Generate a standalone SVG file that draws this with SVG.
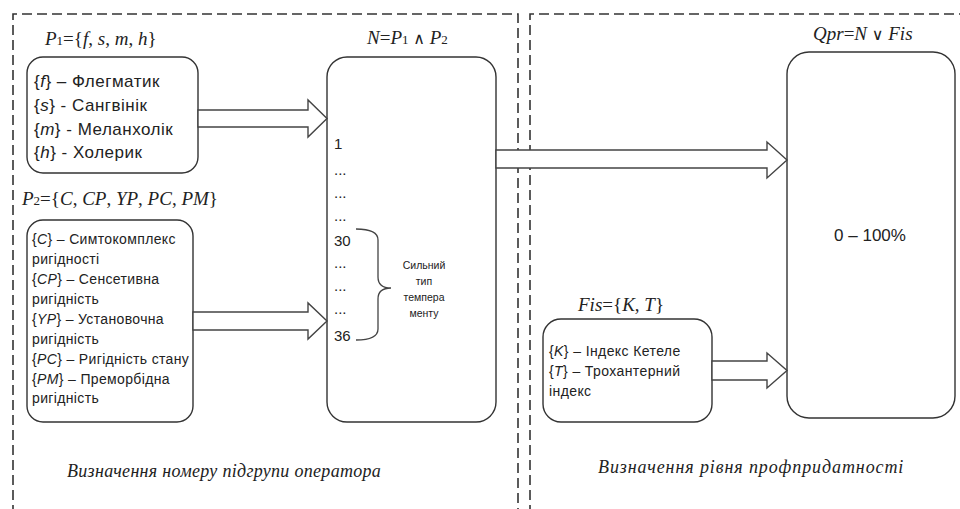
<svg xmlns="http://www.w3.org/2000/svg" width="960" height="509" viewBox="0 0 960 509">
<defs>
<style>
.frame{fill:none;stroke:#333;stroke-width:1.6;stroke-dasharray:10,5}
.box{fill:#fff;stroke:#333;stroke-width:1.4}
.arr{fill:#fff;stroke:#444;stroke-width:1.4}
.t{font-family:"Liberation Sans",Arial,sans-serif;fill:#222}
.m{font-family:"Liberation Serif","Times New Roman",serif;fill:#222;font-size:19px}
.op{font-family:"DejaVu Sans",sans-serif;font-size:16px;font-weight:normal}
.i{font-style:italic}
.cap{font-family:"Liberation Serif","Times New Roman",serif;font-style:italic;fill:#222;font-size:18px}
</style>
</defs>
<rect width="960" height="509" fill="#fff"/>
<g id="frames">
<path class="frame" d="M13,515 V14 H518 V515"/>
<path class="frame" d="M530,515 V14 H965"/>
</g>
<g id="p1">
<text class="m" x="45" y="45"><tspan class="i">P</tspan><tspan font-size="13">1</tspan>={<tspan class="i">f</tspan>, <tspan class="i">s</tspan>, <tspan class="i">m</tspan>, <tspan class="i">h</tspan>}</text>
<rect class="box" x="27" y="57" width="171" height="116" rx="16"/>
<text class="t" font-size="17" letter-spacing="0.5"><tspan x="34" y="87">{<tspan class="i">f</tspan>} – Флегматик</tspan><tspan x="34" y="111">{<tspan class="i">s</tspan>} - Сангвінік</tspan><tspan x="34" y="135">{<tspan class="i">m</tspan>} - Меланхолік</tspan><tspan x="34" y="158">{<tspan class="i">h</tspan>} - Холерик</tspan></text>
</g>
<g id="p2">
<text class="m" x="22" y="205"><tspan class="i">P</tspan><tspan font-size="13">2</tspan>={<tspan class="i">C</tspan>, <tspan class="i">CP</tspan>, <tspan class="i">YP</tspan>, <tspan class="i">PC</tspan>, <tspan class="i">PM</tspan>}</text>
<rect class="box" x="27" y="220" width="166" height="202" rx="16"/>
<text class="t" font-size="14" letter-spacing="0.35"><tspan x="32" y="244">{<tspan class="i">C</tspan>} – Симтокомплекс</tspan><tspan x="32" y="264">ригідності</tspan><tspan x="32" y="284">{<tspan class="i">CP</tspan>} – Сенсетивна</tspan><tspan x="32" y="304">ригідність</tspan><tspan x="32" y="324">{<tspan class="i">YP</tspan>} – Установочна</tspan><tspan x="32" y="344">ригідність</tspan><tspan x="32" y="364">{<tspan class="i">PC</tspan>} – Ригідність стану</tspan><tspan x="32" y="384">{<tspan class="i">PM</tspan>} – Преморбідна</tspan><tspan x="32" y="403">ригідність</tspan></text>
</g>
<g id="n">
<text class="m" x="367" y="44"><tspan class="i">N</tspan>=<tspan class="i">P</tspan><tspan font-size="13">1</tspan> <tspan class="op">∧</tspan> <tspan class="i">P</tspan><tspan font-size="13">2</tspan></text>
<rect class="box" x="327" y="57" width="169" height="365" rx="20"/>
<text class="t" font-size="15"><tspan x="334" y="149">1</tspan><tspan x="334" y="175">...</tspan><tspan x="334" y="198">...</tspan><tspan x="334" y="221">...</tspan><tspan x="334" y="246">30</tspan><tspan x="334" y="268">...</tspan><tspan x="334" y="291">...</tspan><tspan x="334" y="314">...</tspan><tspan x="334" y="341">36</tspan></text>
<path d="M356,229 Q378,229 378,240 V277 Q378,288 391,288 Q378,288 378,299 V329 Q378,340 356,340" fill="none" stroke="#444" stroke-width="1.3"/>
<text class="t" font-size="10.5" text-anchor="middle"><tspan x="424" y="269">Сильний</tspan><tspan x="424" y="285">тип</tspan><tspan x="424" y="301">темпера</tspan><tspan x="424" y="317">менту</tspan></text>
</g>
<g id="fis">
<text class="m" x="578" y="311"><tspan class="i">Fis</tspan>={<tspan class="i">K</tspan>, <tspan class="i">T</tspan>}</text>
<rect class="box" x="543" y="319" width="169" height="103" rx="18"/>
<text class="t" font-size="14" letter-spacing="0.4"><tspan x="549" y="356">{<tspan class="i">K</tspan>} – Індекс Кетеле</tspan><tspan x="549" y="376">{<tspan class="i">T</tspan>} – Трохантерний</tspan><tspan x="549" y="396">індекс</tspan></text>
</g>
<g id="q">
<text class="m" x="813" y="40"><tspan class="i">Qpr</tspan>=<tspan class="i">N</tspan> <tspan class="op">∨</tspan> <tspan class="i">Fis</tspan></text>
<rect class="box" x="787" y="52" width="168" height="366" rx="22"/>
<text class="t" font-size="17" text-anchor="middle" x="870" y="241">0 – 100%</text>
</g>
<g id="connectors">
<polygon class="arr" points="198,110 308,110 308,100 327,118.5 308,137 308,127 198,127"/>
<polygon class="arr" points="193,312 308,312 308,303 327,321 308,339 308,330 193,330"/>
<polygon class="arr" points="496,150 767,150 767,142 787,160 767,178 767,168 496,168"/>
<polygon class="arr" points="712,361 767,361 767,353 787,370.5 767,388 767,380 712,380"/>
</g>
<g id="captions">
<text class="cap" x="67" y="477" letter-spacing="0.3">Визначення номеру підгрупи оператора</text>
<text class="cap" x="598" y="473" letter-spacing="0.9">Визначення рівня профпридатності</text>
</g>
</svg>
